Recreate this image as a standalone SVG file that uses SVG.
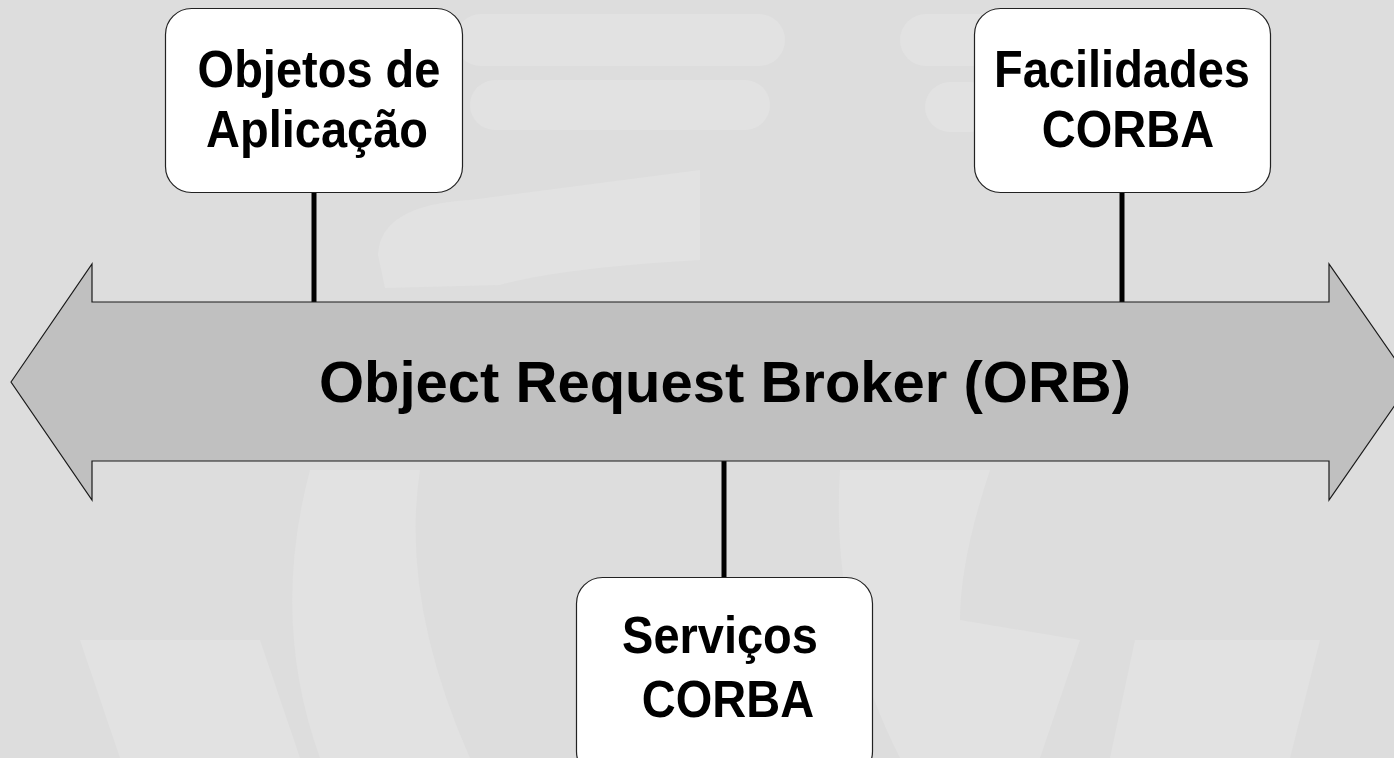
<svg xmlns="http://www.w3.org/2000/svg" width="1394" height="758" viewBox="0 0 1394 758">
  <style>
    .bg { fill: #dddddd; }
    .mark { fill: #e2e2e2; }
    .box { fill: #ffffff; stroke: #222222; stroke-width: 1.2; }
    .bus { fill: #c0c0c0; stroke: #1a1a1a; stroke-width: 1.2; stroke-linejoin: miter; }
    .link { stroke: #000000; stroke-width: 5; fill: none; }
    .label { font-family: "Liberation Sans", Arial, sans-serif; font-weight: bold; fill: #000000; text-anchor: middle; }
    .node-text { font-size: 47px; }
    .bus-text { font-size: 58px; }
  </style>

  <!-- background with faint emblem shapes -->
  <rect class="bg" x="0" y="0" width="1394" height="758"/>
  <g id="emblem">
    <rect class="mark" x="455" y="14" width="330" height="52" rx="26"/>
    <rect class="mark" x="470" y="80" width="300" height="50" rx="25"/>
    <rect class="mark" x="900" y="14" width="110" height="52" rx="26"/>
    <rect class="mark" x="925" y="82" width="70" height="50" rx="25"/>
    <path class="mark" d="M378 255 Q380 205 470 200 L700 170 L700 260 Q560 268 500 285 L385 288 Z"/>
    <path class="mark" d="M310 470 L420 470 Q400 600 470 758 L320 758 Q270 620 310 470 Z"/>
    <path class="mark" d="M840 470 L990 470 Q960 560 960 620 L1080 640 L1040 758 L900 758 Q830 620 840 470 Z"/>
    <path class="mark" d="M80 640 L260 640 L300 758 L120 758 Z"/>
    <path class="mark" d="M1135 640 L1320 640 L1290 758 L1110 758 Z"/>
  </g>

  <!-- connectors between the components and the ORB bus -->
  <g id="connectors">
    <line class="link" x1="314" y1="193" x2="314" y2="303"/>
    <line class="link" x1="1122" y1="193" x2="1122" y2="303"/>
    <line class="link" x1="724" y1="461" x2="724" y2="577"/>
  </g>

  <!-- ORB bus: double-headed block arrow -->
  <g id="orb">
    <path class="bus" d="M11 382 L92 264 L92 302 L1329 302 L1329 264 L1411 382 L1329 500 L1329 461 L92 461 L92 500 Z"/>
    <text class="label bus-text" x="725" y="402">Object Request Broker (ORB)</text>
  </g>

  <!-- node labels are drawn slightly taller than wide -->
  <g id="app-objects">
    <rect class="box" x="165.5" y="8.5" width="297" height="184" rx="26"/>
    <text class="label node-text" transform="translate(319 87) scale(1 1.1)">Objetos de</text>
    <text class="label node-text" transform="translate(317 147) scale(1 1.1)">Aplicação</text>
  </g>

  <g id="corba-facilities">
    <rect class="box" x="974.5" y="8.5" width="296" height="184" rx="26"/>
    <text class="label node-text" transform="translate(1122 87) scale(1 1.1)">Facilidades</text>
    <text class="label node-text" transform="translate(1128 147) scale(1 1.1)">CORBA</text>
  </g>

  <g id="corba-services">
    <rect class="box" x="576.5" y="577.5" width="296" height="200" rx="26"/>
    <text class="label node-text" transform="translate(720 653) scale(1 1.1)">Serviços</text>
    <text class="label node-text" transform="translate(728 717) scale(1 1.1)">CORBA</text>
  </g>
</svg>
